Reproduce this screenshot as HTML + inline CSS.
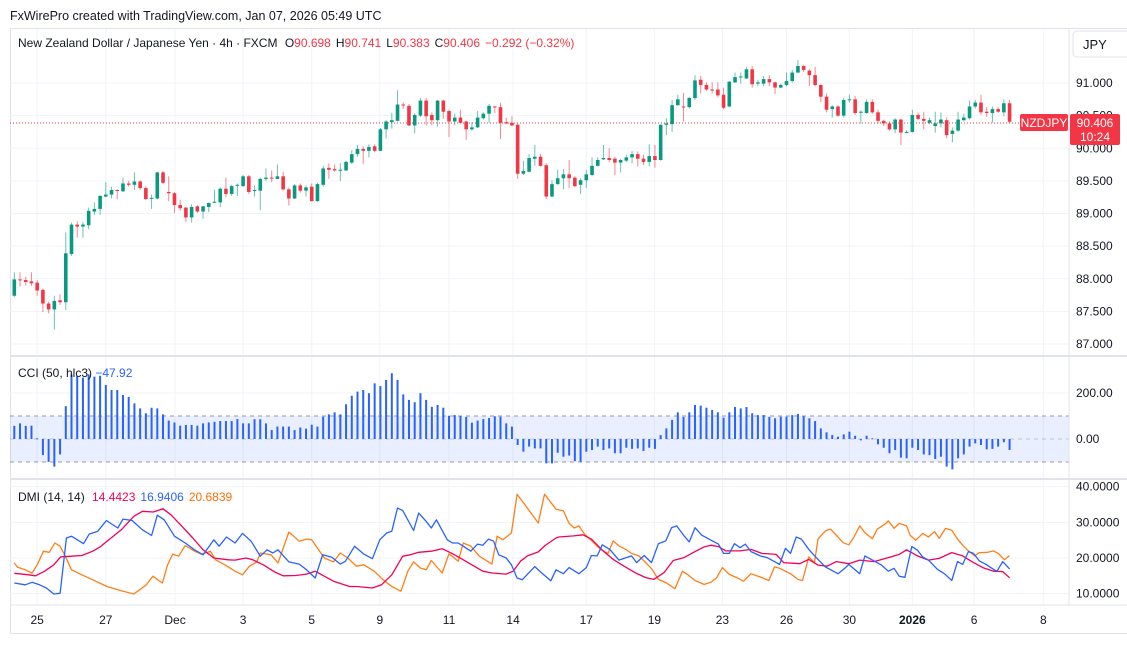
<!DOCTYPE html>
<html><head><meta charset="utf-8"><style>
html,body{margin:0;padding:0;background:#fff;}
svg{display:block;font-family:"Liberation Sans",sans-serif;}
</style></head><body>
<svg id="chart" width="1127" height="649" viewBox="0 0 1127 649" xmlns="http://www.w3.org/2000/svg">
<rect x="0" y="0" width="1127" height="649" fill="#fff"/>
<text x="10" y="20" font-size="12.5" fill="#131722">FxWirePro created with TradingView.com, Jan 07, 2026 05:49 UTC</text>
<rect x="10.5" y="28.5" width="1120" height="605" fill="none" stroke="#e0e3eb"/>
<g id="grid"></g>
<rect x="10" y="416" width="1059" height="46" fill="#2962ff" fill-opacity="0.1"/>
<line x1="10" x2="1069" y1="416" y2="416" stroke="#9598a1" stroke-dasharray="4,4"/>
<line x1="10" x2="1069" y1="462" y2="462" stroke="#9598a1" stroke-dasharray="4,4"/>
<line x1="10" x2="1069" y1="439" y2="439" stroke="#9598a1" stroke-opacity="0.5" stroke-dasharray="4,4"/>
<line x1="10" x2="1127" y1="356" y2="356" stroke="#e0e3eb" stroke-width="2"/>
<line x1="10" x2="1127" y1="479" y2="479" stroke="#e0e3eb" stroke-width="2"/>
<line x1="1069" x2="1069" y1="28" y2="605" stroke="#e0e3eb"/>
<line x1="10" x2="1127" y1="605" y2="605" stroke="#e0e3eb"/>
<line x1="10" x2="1069" y1="123" y2="123" stroke="#f23645" stroke-dasharray="1,2"/>
<g id="candles" clip-path="url(#c1)"></g>
<g id="cci" clip-path="url(#c2)"></g>
<g id="dmi" clip-path="url(#c3)"></g>
<defs>
<clipPath id="c1"><rect x="10" y="28" width="1059" height="327"/></clipPath>
<clipPath id="c2"><rect x="10" y="357" width="1059" height="121"/></clipPath>
<clipPath id="c3"><rect x="10" y="480" width="1059" height="124"/></clipPath>
</defs>
<g id="axes" font-size="12" fill="#131722"></g>
<text x="18" y="47" font-size="12" fill="#131722">New Zealand Dollar / Japanese Yen · 4h · FXCM <tspan dx="4">O</tspan><tspan fill="#f23645">90.698</tspan><tspan dx="5">H</tspan><tspan fill="#f23645">90.741</tspan><tspan dx="5">L</tspan><tspan fill="#f23645">90.383</tspan><tspan dx="5">C</tspan><tspan fill="#f23645">90.406</tspan><tspan dx="5" fill="#f23645">−0.292 (−0.32%)</tspan></text>
<text x="18" y="377" font-size="12" fill="#131722">CCI (50, hlc3) <tspan fill="#2962ff">−47.92</tspan></text>
<text x="18" y="501" font-size="12" fill="#131722">DMI (14, 14) <tspan dx="4" fill="#f50057">14.4423</tspan><tspan dx="5" fill="#2962ff">16.9406</tspan><tspan dx="5" fill="#ff6d00">20.6839</tspan></text>
<rect x="1073" y="31" width="60" height="26" rx="4" fill="#fff" stroke="#e0e3eb"/>
<text x="1083" y="49" font-size="13" fill="#131722">JPY</text>
<rect x="1020" y="114" width="48" height="17" rx="2" fill="#f23645"/>
<text x="1044" y="127" font-size="12" fill="#fff" text-anchor="middle">NZDJPY</text>
<rect x="1070" y="114" width="50" height="31" rx="2" fill="#f23645"/>
<text x="1095" y="127" font-size="12" fill="#fff" text-anchor="middle">90.406</text>
<text x="1095" y="141" font-size="12" fill="#fff" text-anchor="middle">10:24</text>
</svg>
<script>
const opens=[87.74,87.99,87.98,87.96,87.94,87.83,87.62,87.53,87.67,87.64,88.38,88.83,88.80,88.82,89.03,89.07,89.26,89.29,89.36,89.34,89.46,89.44,89.49,89.39,89.23,89.23,89.63,89.33,89.31,89.13,89.09,88.94,89.11,89.03,89.10,89.17,89.17,89.38,89.30,89.43,89.42,89.57,89.35,89.35,89.53,89.55,89.53,89.57,89.37,89.23,89.43,89.35,89.41,89.19,89.44,89.70,89.68,89.66,89.66,89.78,89.91,89.99,89.96,90.03,89.96,90.29,90.40,90.42,90.67,90.65,90.35,90.50,90.73,90.51,90.43,90.73,90.57,90.41,90.47,90.41,90.29,90.32,90.46,90.53,90.64,90.63,90.40,90.39,90.36,89.61,89.64,89.84,89.87,89.74,89.26,89.45,89.54,89.60,89.55,89.44,89.51,89.59,89.73,89.83,89.85,89.84,89.78,89.81,89.86,89.91,89.84,89.79,89.88,89.82,90.36,90.37,90.66,90.64,90.63,90.77,91.05,90.97,90.90,90.90,90.82,90.64,91.01,91.09,91.07,91.21,90.99,90.99,91.06,91.01,90.93,90.97,91.03,91.16,91.26,91.19,91.12,90.97,90.79,90.60,90.64,90.50,90.74,90.75,90.55,90.54,90.71,90.55,90.42,90.38,90.29,90.44,90.24,90.25,90.51,90.45,90.39,90.34,90.38,90.43,90.22,90.27,90.43,90.46,90.64,90.70,90.56,90.54,90.60,90.55,90.69];
const closes=[87.99,87.98,87.95,87.93,87.82,87.62,87.53,87.66,87.64,88.39,88.83,88.80,88.83,89.04,89.07,89.27,89.29,89.36,89.35,89.46,89.44,89.49,89.39,89.22,89.24,89.63,89.47,89.31,89.13,89.08,88.94,89.10,89.03,89.11,89.16,89.18,89.38,89.30,89.42,89.44,89.57,89.33,89.36,89.53,89.55,89.54,89.57,89.37,89.23,89.43,89.35,89.40,89.19,89.45,89.69,89.67,89.66,89.67,89.79,89.91,89.99,89.96,90.02,89.96,90.29,90.41,90.43,90.67,90.66,90.35,90.51,90.73,90.49,90.43,90.73,90.56,90.41,90.47,90.39,90.29,90.32,90.47,90.53,90.65,90.63,90.39,90.38,90.35,89.61,89.65,89.85,89.87,89.73,89.26,89.45,89.54,89.60,89.54,89.42,89.51,89.60,89.73,89.82,89.85,89.82,89.78,89.82,89.86,89.91,89.84,89.79,89.88,89.82,90.36,90.38,90.66,90.75,90.63,90.77,91.04,90.97,90.90,90.89,90.81,90.62,91.02,91.09,91.10,91.21,90.98,91.01,91.06,91.01,90.93,90.97,91.03,91.16,91.26,91.20,91.12,90.97,90.79,90.59,90.64,90.50,90.74,90.75,90.54,90.56,90.71,90.55,90.42,90.38,90.29,90.44,90.24,90.25,90.51,90.45,90.42,90.43,90.38,90.44,90.20,90.27,90.44,90.47,90.64,90.70,90.55,90.54,90.60,90.56,90.69,90.406];
const highs=[88.10,88.10,88.03,88.10,87.98,87.85,87.65,87.74,87.76,88.71,88.86,88.88,88.87,89.09,89.17,89.28,89.48,89.41,89.37,89.55,89.50,89.63,89.51,89.42,89.29,89.64,89.65,89.57,89.33,89.21,89.10,89.14,89.13,89.12,89.17,89.36,89.40,89.55,89.44,89.46,89.59,89.59,89.43,89.55,89.69,89.66,89.75,89.64,89.40,89.45,89.46,89.43,89.46,89.47,89.73,89.77,89.75,89.77,89.81,89.97,90.05,90.03,90.06,90.06,90.31,90.43,90.54,90.89,90.70,90.68,90.54,90.77,90.77,90.55,90.74,90.74,90.59,90.53,90.59,90.42,90.40,90.57,90.55,90.68,90.65,90.70,90.47,90.49,90.38,89.81,89.91,90.05,89.91,89.77,89.51,89.67,89.68,89.82,89.57,89.54,89.67,89.86,89.86,90.05,90.00,89.87,89.84,89.90,89.96,89.95,89.90,90.06,90.05,90.37,90.46,90.74,90.82,90.85,90.79,91.12,91.11,91.01,91.01,91.01,90.93,91.03,91.16,91.16,91.24,91.26,91.05,91.11,91.12,91.02,90.99,91.16,91.20,91.35,91.28,91.21,91.25,90.98,90.84,90.66,90.66,90.77,90.82,90.80,90.58,90.75,90.75,90.59,90.44,90.41,90.46,90.45,90.28,90.59,90.55,90.56,90.47,90.56,90.55,90.47,90.32,90.56,90.53,90.73,90.74,90.82,90.63,90.64,90.63,90.75,90.741];
const lows=[87.72,87.88,87.90,87.89,87.74,87.49,87.47,87.22,87.60,87.52,88.35,88.63,88.63,88.76,88.98,88.98,89.25,89.23,89.22,89.33,89.41,89.36,89.36,89.21,89.07,89.22,89.45,89.19,89.01,89.04,88.87,88.86,89.01,88.92,89.02,89.16,89.10,89.25,89.27,89.27,89.41,89.30,89.26,89.05,89.50,89.48,89.53,89.35,89.12,89.22,89.32,89.26,89.18,89.18,89.41,89.53,89.64,89.50,89.65,89.76,89.87,89.76,89.86,89.94,89.96,90.15,90.30,90.41,90.60,90.34,90.23,90.48,90.35,90.35,90.33,90.45,90.17,90.35,90.38,90.13,90.27,90.31,90.44,90.39,90.54,90.14,90.37,90.34,89.53,89.59,89.63,89.73,89.72,89.22,89.25,89.44,89.37,89.39,89.40,89.30,89.39,89.57,89.72,89.82,89.79,89.59,89.63,89.79,89.77,89.72,89.74,89.72,89.70,89.81,90.20,90.25,90.65,90.41,90.61,90.74,90.84,90.88,90.84,90.78,90.60,90.63,91.00,90.99,91.06,90.93,90.95,90.95,90.95,90.83,90.92,90.95,91.01,91.15,91.17,90.95,90.95,90.71,90.55,90.47,90.48,90.47,90.70,90.51,90.38,90.53,90.53,90.38,90.34,90.27,90.23,90.05,90.23,90.24,90.43,90.29,90.37,90.24,90.32,90.15,90.09,90.25,90.41,90.44,90.61,90.51,90.48,90.39,90.54,90.49,90.383];
const cciValues=[57,68,57,58,3,-70,-99,-120,-67,143,281,275,267,281,271,275,235,213,213,191,183,155,133,112,136,133,107,80,72,58,61,61,58,68,72,75,78,78,78,87,68,68,86,86,68,39,54,54,54,39,50,45,62,54,97,107,116,107,151,188,206,213,199,242,230,257,286,257,194,170,160,199,170,140,148,136,101,104,100,96,71,80,87,91,99,97,68,54,-26,-55,-33,-41,-41,-106,-106,-60,
-77,-72,-96,-99,-55,-48,-33,-48,-41,-62,-62,-38,-43,-41,-52,-38,-43,17,46,83,116,96,116,148,145,136,126,116,93,116,139,133,139,112,104,104,96,90,97,97,104,109,99,90,78,46,29,17,10,20,32,14,-6,14,3,-23,-38,-62,-48,-81,-84,-38,-48,-67,-70,-87,-77,-120,-132,-84,-67,-33,-19,-26,-45,-43,-33,-14,-47.92];
const plusDiIdx=[1,2.9,4.1,5.4,6.6,7.9,9,10.1,11,13.1,14.1,15.6,17.1,19.1,20,21.6,23.4,25,26,27.2,29,30.9,32.5,34,35.9,36.8,38.1,39.6,40.9,42.4,44,45.2,46.2,47.1,49,50.8,52.1,53.6,54.9,56.5,58,58.9,60.5,62.1,63.6,64.9,66.1,67,68,68.9,70.8,71.7,73,73.9,74.8,76.7,77.6,78.6,79.5,80.8,82,82.9,83.9,84.8,85.7,87,87.9,88.9,89.8,92,93.2,94.8,95.7,97,98,99.7,101,101.9,102.9,103.8,105.1,106.7,108.9,109.8,111.1,112.4,113.6,114.9,115.9,116.8,118.1,119,120,121.2,122.8,124.1,125,126,126.9,127.9,128.8,129.8,131.4,132.6,134.2,134.8,135.8,136.7,137.7,138.6,139.9,141.2,142.8,145,146.2,146.9,148.8,149.7,151.3,152.6,153.8,154.8,155.7,156.7,157.9,158.9,159.8,160.8,162.4,163.6,164.9,165.9,166.8,167.8,168.7,169.7,170.9,172.2,172.8,173.8,175];
const plusDiVal=[13,12.5,13.2,12.5,11.6,9.9,10.1,25.6,26.1,24,26.7,27.5,30.5,28.4,30.9,30.5,27.9,26.3,32,30.7,26.1,24.2,22.3,20.9,25.1,23.3,25.9,24.2,26.9,24.7,20.5,22.3,21.4,22.3,18.9,18.3,16.7,14.4,20.9,20.2,18.3,19.1,23.3,21.1,19.8,25.1,27,27.5,34,33.3,27.7,32.6,30.3,28.4,30.7,25.1,24.2,24.2,23.3,21.9,23.9,23.6,25.3,24.7,20.9,20,18.1,14.4,13.9,17.6,15.8,13.6,16.7,15.6,17.3,15.6,17.3,20.7,20.6,23.7,22.4,19.4,20.6,18.7,20.7,18.7,24,24.8,28.5,29,26.2,24.5,28.5,26.4,25,23.9,21.3,21.3,24,22.9,23.9,21.8,20.6,20.1,18.7,18.2,22.7,21.3,25.9,25.3,22.4,20.1,17.5,15.6,17.1,18.2,15.6,20.6,19.2,18,16.3,17.1,14.9,14.6,23.2,22.2,20.3,19.4,16.8,15.6,13.7,19,18.2,21.8,21.3,19.2,18.2,16.8,16.3,19,16.94];
const minusDiIdx=[1,1.6,2.9,4.1,5,6.1,7.1,8.1,9,9.8,11,12.8,14.7,17.2,19.7,21.9,24.1,25.2,26.9,27.8,28.7,29.7,30.9,32.5,33.7,35.3,36.2,37.8,39.6,40.9,42.1,43.4,44,45.9,47.1,49,50.8,52.1,53,55.2,56.8,58,59.3,60.8,62.1,63.9,65.5,67,68.6,69.8,70.8,72,73,73.9,75.8,77,78.6,79.5,80.8,82.3,84.5,85.4,86.4,87.9,88.9,90.7,92.6,93.7,95.7,97,98,98.9,99.7,100.7,102.3,103.5,104.8,105.7,106.7,107.9,108.9,110.2,111.4,112.4,113.6,114.9,116.5,117.8,118.7,120,121.6,122.8,123.8,124.8,126,127.3,128.5,129.8,131.7,132.9,133.9,134.8,136.7,138,138.8,139.9,140.9,141.5,142.8,143.7,145,145.9,146.9,147.8,148.8,149.7,151,151.9,153.2,153.8,154.8,155.7,157,157.6,158.6,159.8,160.8,161.9,162.7,163.8,164.9,165.9,166.8,167.8,168.9,169.7,171.2,172.2,173.1,174.1,175];
const minusDiVal=[18.6,17.4,16.7,15.8,18.1,21.9,21.6,24.2,23.3,20.9,16.7,15.3,13.9,12,10.8,9.9,12.5,14.9,13,18.1,21.1,20.5,23.5,21.9,21.1,21.9,19.5,18.1,16.3,15.3,17.7,18.9,21.4,20.9,18.6,27.3,24.7,25.3,25.1,20,18.9,21.4,20,17.7,18.1,16.3,13.9,12,10.7,16.3,18.9,17.2,16.7,19.3,15.8,21.2,19.1,24.2,23.3,20.5,18.3,26.1,25.1,27,37.9,34,29.8,37.9,33.7,33.2,29.7,28.4,29,26.7,24.3,22.4,21.3,24.8,23.4,22.4,21.3,20.6,18.7,17,14,13.1,11.4,16.3,15.4,13.7,12.6,13.2,14.5,17.3,15.4,14.5,13.5,15.6,14.5,13.7,17.5,17.1,15.6,14,13.7,20.3,18.7,25.3,27.6,28.1,25.9,24.3,23.7,25.9,29,27.1,25.4,28.1,29.5,30.4,28.3,29.7,29,26.4,25,26.9,25.9,27.4,25.5,28.3,27.8,25.3,23.6,22,20.6,21.5,21.6,22,21.2,19.5,20.68];
const adxIdx=[1,3.5,4.7,6.3,7.9,9.1,11,12.8,14.7,16,17.2,19.7,21.9,23.4,25.3,27,28.4,30.3,32.2,34,35.9,38.4,39.6,41.5,42.7,44.6,46.5,48,50.2,52.1,53.6,55.2,56.8,59.6,60.8,63.6,65.2,67,68.9,70.2,71.7,73.9,75.8,77.6,79.5,81.4,82.9,84.5,87,88.2,89.5,90.7,92.6,93.8,95.7,96.2,98.8,100.4,101.9,103.8,105.7,107.6,109.5,111.4,112.8,114.6,116.2,118.1,120,121.6,122.8,124.1,125.4,127.9,129.8,131.7,134.2,135.5,138.3,139.9,141.5,143.1,144.7,146.9,148.8,151.3,153.8,155.7,157,158.9,160.8,162.7,164.9,166.8,168.4,170.3,172.2,173.8,175];
const adxVal=[15.7,15.3,15,16.3,18.1,20.3,20.5,20.7,21.9,23.1,24.7,27.9,31.7,33.1,32.9,33.8,32.1,28.9,25.6,22.3,20,19.5,19.4,20,19.5,18,16.1,15,15.1,15.5,16.3,14.9,13.5,12,12,11.6,12.5,15.3,20.5,20.9,21.6,21.9,22.6,21.2,19.5,17.7,16.3,15.8,15.5,16.3,19.1,20.6,21.7,23.5,25.6,25.9,26.2,26.5,25.3,22.2,19.6,17.7,15.9,14.5,14,15.9,19.3,20.1,21.8,23.1,23.6,23.2,22,22,22.4,21.3,21,18.7,18.4,19.6,18,17.7,19,18.4,19.4,19,20.1,21,22.3,20.6,19.4,19.9,21.5,20.6,19,17.3,16.3,16.2,14.44];
const priceTicks=[87,87.5,88,88.5,89,89.5,90,90.5,91];
const priceTickLabels=["87.000","87.500","88.000","88.500","89.000","89.500","90.000","90.500","91.000"];
const cciTicks=[0,200];
const cciTickLabels=["0.00","200.00"];
const dmiTicks=[10,20,30,40];
const dmiTickLabels=["10.0000","20.0000","30.0000","40.0000"];
const timeTickIdx=[5,17,29.1,41,53,64.9,77,88.2,101,112.9,124.8,136,147,158,168.8,180.9];
const timeTickLabels=["25","27","Dec","3","5","9","11","14","17","19","23","26","30","2026","6","8"];

const NS="http://www.w3.org/2000/svg";
const xOf=i=>14.3+(i-1)*5.72;
const yPrice=p=>83+(91-p)*65.25;
const yCci=v=>439-v*0.23;
const yDmi=v=>558-(v-20)*3.567;
function mk(tag,attrs,parent){const e=document.createElementNS(NS,tag);for(const k in attrs)e.setAttribute(k,attrs[k]);parent.appendChild(e);return e;}
const grid=document.getElementById('grid');
const axes=document.getElementById('axes');
timeTickIdx.forEach((t,k)=>{
  const x=xOf(t);
  const gl=mk('line',{x1:x,x2:x,y1:29,y2:605,stroke:'#f0f3fa'},grid);
  
  
  const tx=mk('text',{x:x,y:624,'text-anchor':'middle','font-weight':timeTickLabels[k]==='2026'?'bold':'normal'},axes);
  tx.textContent=timeTickLabels[k];
  
  
});
priceTicks.forEach((p,k)=>{
  const y=yPrice(p);
  const gl=mk('line',{x1:10,x2:1069,y1:y,y2:y,stroke:'#f0f3fa'},grid);
  
  
  const tx=mk('text',{x:1076,y:y+4},axes);
  tx.textContent=priceTickLabels[k];
  
  
});
cciTicks.forEach((v,k)=>{
  const y=yCci(v);
  if(v!==0){const gl=mk('line',{x1:10,x2:1069,y1:y,y2:y,stroke:'#f0f3fa'},grid);
  
  }
  const tx=mk('text',{x:1076,y:y+4},axes);
  tx.textContent=cciTickLabels[k];
  
  
});
dmiTicks.forEach((v,k)=>{
  const y=yDmi(v);
  const gl=mk('line',{x1:10,x2:1069,y1:y,y2:y,stroke:'#f0f3fa'},grid);
  
  
  const tx=mk('text',{x:1076,y:y+4},axes);
  tx.textContent=dmiTickLabels[k];
  
  
});
const cg=document.getElementById('candles');
closes.forEach((c,i)=>{
  const o=opens[i],h=highs[i],l=lows[i],x=xOf(i+1);
  const col=c>=o?'#089981':'#f23645';
  const w=mk('line',{x1:x,x2:x,y1:yPrice(h),y2:yPrice(l),stroke:col,'stroke-opacity':0.6,'stroke-width':1},cg);
  
  
  const top=yPrice(Math.max(o,c)),bot=yPrice(Math.min(o,c));
  const b=mk('rect',{x:x-1.8,y:top,width:3.6,height:Math.max(1,bot-top),fill:col},cg);
  
  
});
const ccg=document.getElementById('cci');
cciValues.forEach((v,i)=>{
  const x=xOf(i+1),y0=yCci(0),y1=yCci(v);
  const r=mk('rect',{x:x-1,y:Math.min(y0,y1),width:2,height:Math.max(1,Math.abs(y1-y0)),fill:'#2962ff'},ccg);
  
  
});
const dg=document.getElementById('dmi');
function line(idx,val,col,name){
  const d=idx.map((t,k)=>(k?'L':'M')+xOf(t).toFixed(1)+','+yDmi(val[k]).toFixed(1)).join('');
  const p=mk('path',{d:d,fill:'none',stroke:col,'stroke-width':1.3,'stroke-linejoin':'round'},dg);
  
  
}
line(minusDiIdx,minusDiVal,'#ff7f1a','minus-di-line');
line(adxIdx,adxVal,'#f50057','adx-line');
line(plusDiIdx,plusDiVal,'#2962ff','plus-di-line');
</script>
</body></html>
